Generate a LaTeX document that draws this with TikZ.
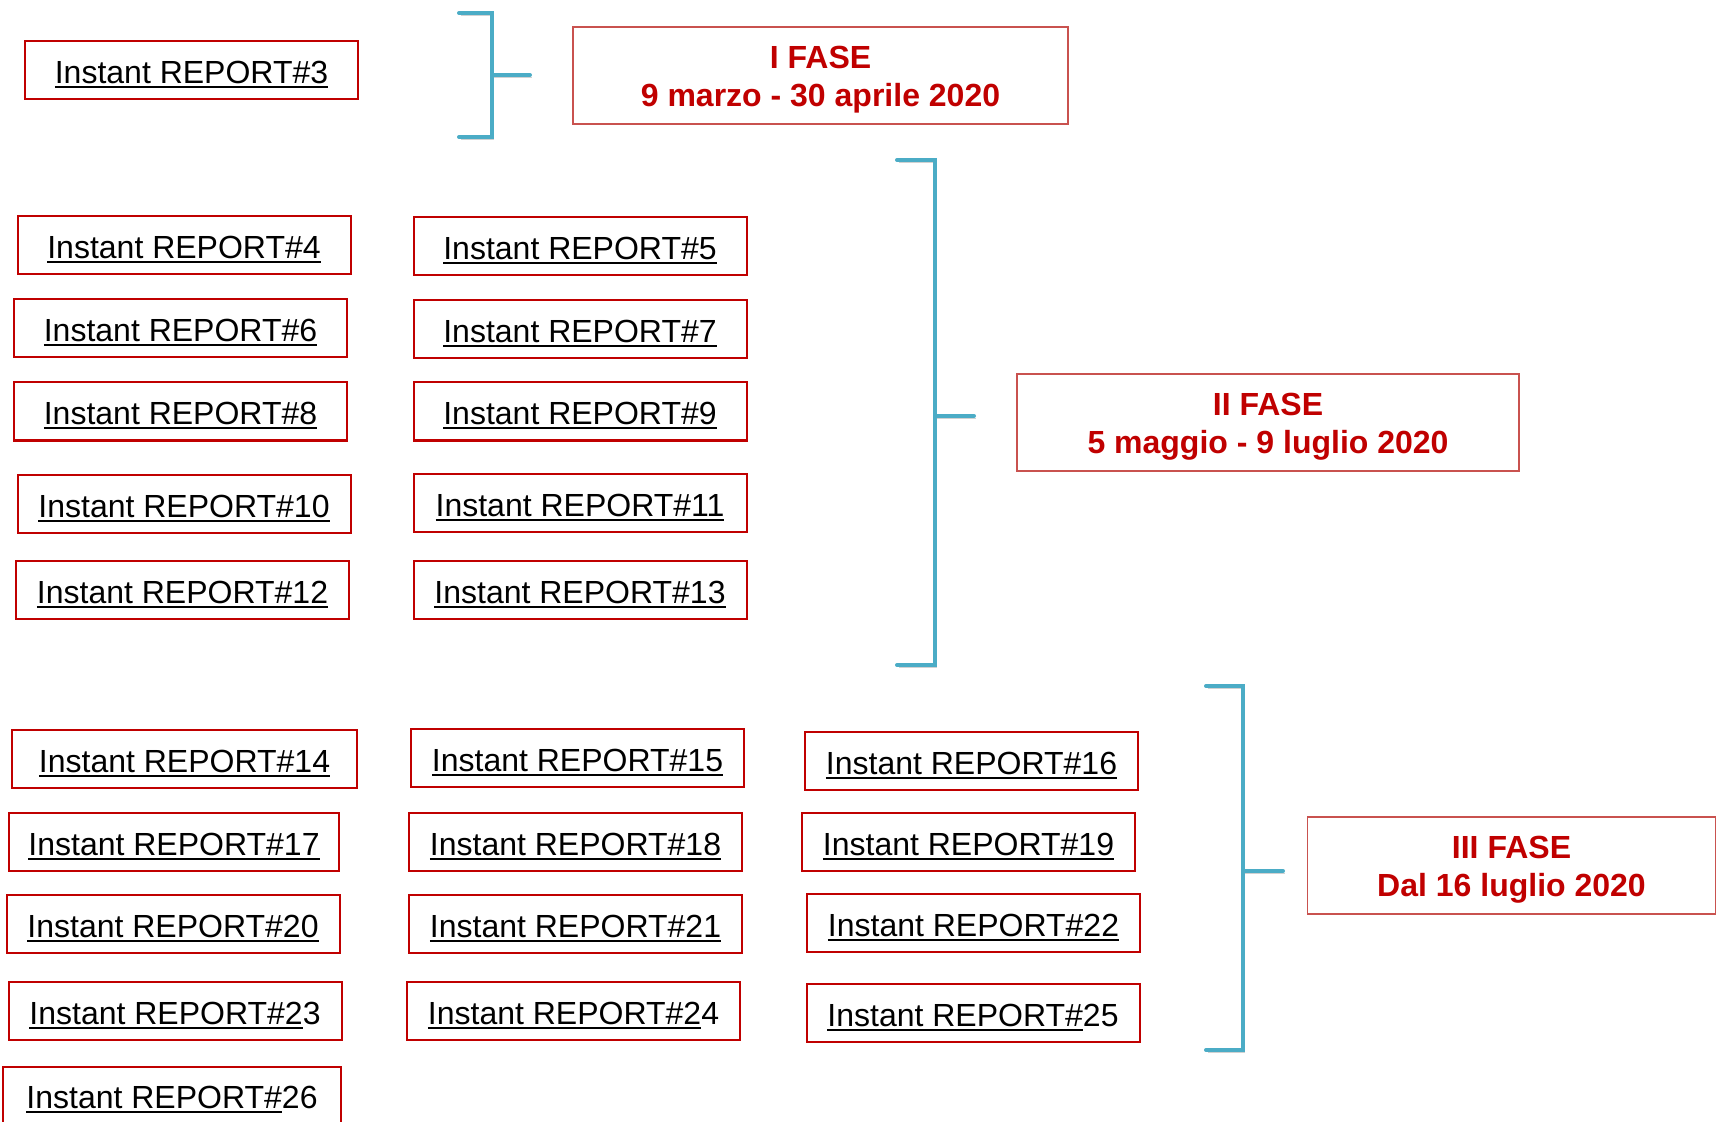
\documentclass[tikz,border=0pt]{standalone}
\usepackage{fontspec}
\setmainfont{Liberation Sans}

\definecolor{repred}{HTML}{C00000}
\definecolor{faseedge}{HTML}{C9524F}
\definecolor{bracecol}{HTML}{4BACC6}

\newsavebox{\ulbox}
\newcommand{\ulin}[1]{\sbox{\ulbox}{#1}\rlap{\rule[-2.4pt]{\wd\ulbox}{1pt}}\usebox{\ulbox}}
\newcommand{\rep}[1]{\ulin{Instant REPORT\##1}}
\newcommand{\fasestrut}{\rule{0pt}{15.5pt}}

\begin{document}
\begin{tikzpicture}[
  x=0.5pt, y=-0.5pt,
  report/.style={draw=repred, line width=1pt, minimum width=166.5pt, minimum height=29pt,
                 inner sep=0pt, text height=15.6pt, text depth=2.5pt,
                 font=\fontsize{16}{18}\selectfont},
  fase/.style={draw=faseedge, line width=0.75pt, minimum height=48.5pt, inner sep=0pt,
               align=center, text=repred, font=\fontsize{16}{18.8}\selectfont\bfseries},
  brace/.style={draw=bracecol, line width=2pt, line cap=round,
                preaction={draw=black!18, transform canvas={shift={(0.8pt,-1.3pt)}}}}
]
\useasboundingbox (0,0) rectangle (1716,1122);

% I fase
\node[report] (r3) at (191.5,70) {\rep{3}};
\node[fase, minimum width=247.5pt] (f1) at (820.5,75.5) {\fasestrut I FASE\\9 marzo - 30 aprile 2020};

% II fase
\node[report] (r4) at (184,245) {\rep{4}};
\node[report] (r5) at (580,246.5) {\rep{5}};
\node[report] (r6) at (180.5,328.5) {\rep{6}};
\node[report] (r7) at (580,329) {\rep{7}};
\node[report] (r8) at (180.5,411.5) {\rep{8}};
\node[report] (r9) at (580,411.5) {\rep{9}};
\node[report] (r10) at (184,504) {\rep{10}};
\node[report] (r11) at (580,503) {\rep{11}};
\node[report] (r12) at (182.5,590) {\rep{12}};
\node[report] (r13) at (580,590) {\rep{13}};
\node[fase, minimum width=251pt] (f2) at (1268,422.5) {\fasestrut II FASE\\5 maggio - 9 luglio 2020};

% III fase
\node[report, minimum width=172.5pt] (r14) at (184.5,759) {\rep{14}};
\node[report] (r15) at (577.5,758) {\rep{15}};
\node[report] (r16) at (971.5,761) {\rep{16}};
\node[report, minimum width=165pt] (r17) at (174,842) {\rep{17}};
\node[report] (r18) at (575.5,842) {\rep{18}};
\node[report] (r19) at (968.5,842) {\rep{19}};
\node[report] (r20) at (173,924) {\rep{20}};
\node[report] (r21) at (575.5,924) {\rep{21}};
\node[report] (r22) at (973.5,923) {\rep{22}};
\node[report] (r23) at (175,1011) {\ulin{Instant REPORT\#2}3};
\node[report] (r24) at (573.5,1011) {\ulin{Instant REPORT\#2}4};
\node[report] (r25) at (973,1013) {\ulin{Instant REPORT\#}25};
\node[report, minimum width=169pt] (r26) at (172,1095.5) {\ulin{Instant REPORT\#}26};
\node[fase, minimum width=204pt] (f3) at (1511.5,865.5) {\fasestrut III FASE\\Dal 16 luglio 2020};

% parentesi
\coordinate (b1t) at (459,13);
\coordinate (b1b) at (459,137);
\coordinate (b1m) at (492,75);
\coordinate (b2t) at (897,160);
\coordinate (b2b) at (897,665);
\coordinate (b2m) at (935,416);
\coordinate (b3t) at (1206,686);
\coordinate (b3b) at (1206,1050);
\coordinate (b3m) at (1243,871);

\draw[brace] (b1t) -- ++(33,0) |- (b1b);
\draw[brace] (b1m) -- ++(38,0);
\draw[brace] (b2t) -- ++(38,0) |- (b2b);
\draw[brace] (b2m) -- ++(39,0);
\draw[brace] (b3t) -- ++(37,0) |- (b3b);
\draw[brace] (b3m) -- ++(40,0);
\end{tikzpicture}
\end{document}
